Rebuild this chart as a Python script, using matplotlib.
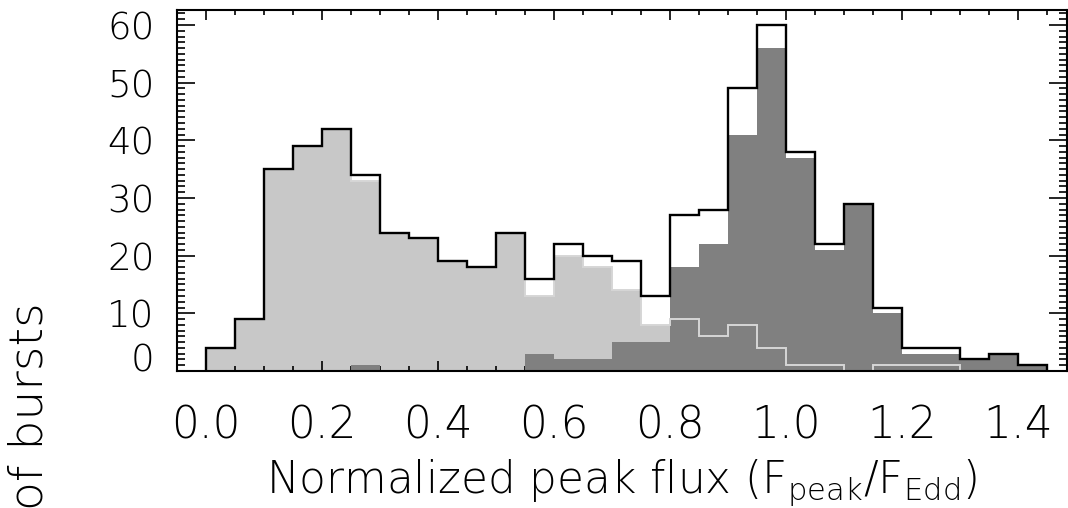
import numpy as np
import matplotlib
matplotlib.use("Agg")
import matplotlib.pyplot as plt
from matplotlib.ticker import MultipleLocator

plt.rcParams['font.family'] = ['DejaVu Sans']
plt.rcParams['font.weight'] = 'light'
plt.rcParams['mathtext.default'] = 'regular'

# histogram bins in normalized peak flux
bin_edges = np.linspace(0.0, 1.45, 30)

# bursts without radius expansion (light fill / thin outline)
non_pre = [4, 9, 35, 39, 42, 33, 24, 23, 19, 18, 24, 13, 20, 18, 14, 8,
           9, 6, 8, 4, 1, 1, 0, 1, 1, 1, 0, 0, 0]
# radius-expansion bursts (dark fill)
pre = [0, 0, 0, 0, 0, 1, 0, 0, 0, 0, 0, 3, 2, 2, 5, 5,
       18, 22, 41, 56, 37, 21, 29, 10, 3, 3, 2, 3, 1]

x_ticks = [0.0, 0.2, 0.4, 0.6, 0.8, 1.0, 1.2, 1.4]
x_ticklabels = ['0.0', '0.2', '0.4', '0.6', '0.8', '1.0', '1.2', '1.4']
y_ticks = [0, 10, 20, 30, 40, 50, 60]

non_pre = np.array(non_pre)
pre = np.array(pre)
total = non_pre + pre

W, H = 1068, 508
fig = plt.figure(figsize=(W / 100, H / 100), dpi=100)
ax = fig.add_axes([177 / W, 137 / H, 890 / W, 361 / H])

ax.stairs(non_pre, bin_edges, fill=True, color='#c8c8c8', zorder=1)
ax.stairs(pre, bin_edges, fill=True, color='#808080', zorder=2)
ax.stairs(non_pre, bin_edges, color='#d6d6d6', lw=1.4, zorder=3)
ax.stairs(total, bin_edges, color='black', lw=1.7, zorder=4)

ax.set_xlim(-0.05, 1.485)
ax.set_ylim(0, 62.6)

ax.set_xticks(x_ticks)
ax.set_xticklabels(x_ticklabels)
ax.xaxis.set_minor_locator(MultipleLocator(0.05))
ax.set_yticks(y_ticks)
ax.yaxis.set_minor_locator(MultipleLocator(1))

ax.tick_params(axis='both', which='both', direction='in', top=True, right=True,
               width=1.2, color='black')
ax.tick_params(axis='x', which='major', length=7, pad=24, labelsize=31.5)
ax.tick_params(axis='x', which='minor', length=3.8)
ax.tick_params(axis='y', which='major', length=13, pad=16, labelsize=26.7)
ax.tick_params(axis='y', which='minor', length=6)

for sp in ax.spines.values():
    sp.set_linewidth(1.5)
    sp.set_zorder(5)

# the zero label sits on the baseline rather than centred on it
fig.canvas.draw()
ax.yaxis.get_major_ticks()[0].label1.set_verticalalignment('baseline')

fig.text(622 / W, 15 / H, r'Normalized peak flux ($F_{peak}/F_{Edd}$)',
         ha='center', va='baseline', fontsize=31.5)
fig.text(43 / W, 206 / H, 'Number of bursts', rotation=90,
         rotation_mode='anchor', ha='right', va='baseline', fontsize=34)

fig.savefig('out.png', dpi=100)
